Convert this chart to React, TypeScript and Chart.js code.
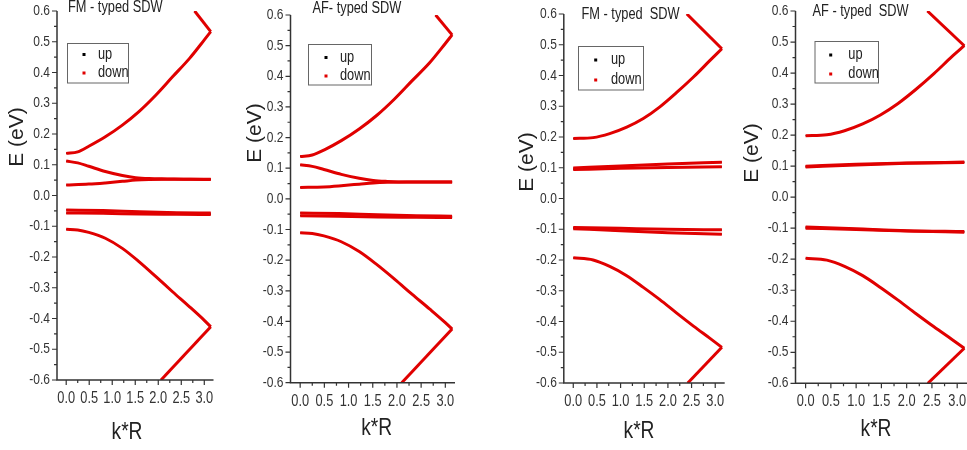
import { useEffect, useRef } from "react";
import { Chart, registerables } from "chart.js";

Chart.register(...registerables);

type Pt = [number, number];

// ---------- text ----------
const PANEL_TITLES = ["FM - typed SDW", "AF- typed SDW", "FM - typed  SDW", "AF - typed  SDW"];
const LEGEND_LABELS = ["up", "down"];
const X_TITLE = "k*R";
const Y_TITLE = "E (eV)";

// ---------- ticks ----------
const X_MAJOR = [0, 0.5, 1, 1.5, 2, 2.5, 3];
const X_MINOR = [0.25, 0.75, 1.25, 1.75, 2.25, 2.75];
const Y_MAJOR = [-0.6, -0.5, -0.4, -0.3, -0.2, -0.1, 0, 0.1, 0.2, 0.3, 0.4, 0.5, 0.6];
const Y_MINOR = [-0.55, -0.45, -0.35, -0.25, -0.15, -0.05, 0.05, 0.15, 0.25, 0.35, 0.45, 0.55];
const X_RANGE = [-0.2, 3.2];
const Y_RANGE = [-0.6, 0.6];

// ---------- panel 1: FM-typed SDW (left pair) ----------
const FM1_A: Pt[] = [[0, 0.137], [0.25, 0.142], [0.5, 0.161], [0.85, 0.191], [1.22, 0.229], [1.58, 0.273], [1.95, 0.327], [2.31, 0.386], [2.68, 0.446], [3.0, 0.506], [3.14, 0.533]];
const FM1_A_FOLD: Pt[] = [[3.14, 0.533], [2.79, 0.6]];
const FM1_B: Pt[] = [[0, 0.112], [0.25, 0.106], [0.49, 0.095], [0.85, 0.078], [1.22, 0.065], [1.51, 0.058], [1.8, 0.055], [2.2, 0.054], [2.7, 0.053], [3.14, 0.053]];
const FM1_C: Pt[] = [[0, 0.034], [0.49, 0.037], [0.85, 0.041], [1.22, 0.046], [1.51, 0.05], [1.8, 0.052], [2.2, 0.053], [2.7, 0.053], [3.14, 0.052]];
const FM1_D1: Pt[] = [[0, -0.047], [0.8, -0.049], [1.6, -0.053], [2.4, -0.056], [3.14, -0.057]];
const FM1_D2: Pt[] = [[0, -0.057], [0.8, -0.058], [1.6, -0.06], [2.4, -0.061], [3.14, -0.062]];
const FM1_E: Pt[] = [[0, -0.11], [0.25, -0.112], [0.49, -0.12], [0.85, -0.139], [1.22, -0.172], [1.58, -0.215], [1.95, -0.264], [2.31, -0.313], [2.68, -0.362], [3.0, -0.406], [3.14, -0.427]];
const FM1_E_FOLD: Pt[] = [[3.14, -0.427], [2.06, -0.6]];

// ---------- panel 2: AF-typed SDW (left pair) ----------
const AF1_A: Pt[] = [[0, 0.138], [0.25, 0.143], [0.5, 0.16], [0.85, 0.19], [1.22, 0.228], [1.58, 0.272], [1.95, 0.326], [2.31, 0.385], [2.68, 0.445], [3.0, 0.507], [3.14, 0.535]];
const AF1_A_FOLD: Pt[] = [[3.14, 0.535], [2.8, 0.6]];
const AF1_B: Pt[] = [[0, 0.111], [0.25, 0.106], [0.49, 0.096], [0.85, 0.08], [1.22, 0.067], [1.51, 0.06], [1.8, 0.057], [2.2, 0.055], [2.7, 0.055], [3.14, 0.055]];
const AF1_C: Pt[] = [[0, 0.037], [0.49, 0.039], [0.85, 0.043], [1.22, 0.048], [1.51, 0.052], [1.8, 0.054], [2.2, 0.055], [2.7, 0.055], [3.14, 0.055]];
const AF1_D1: Pt[] = [[0, -0.046], [0.8, -0.048], [1.6, -0.052], [2.4, -0.055], [3.14, -0.057]];
const AF1_D2: Pt[] = [[0, -0.055], [0.8, -0.057], [1.6, -0.059], [2.4, -0.06], [3.14, -0.061]];
const AF1_E: Pt[] = [[0, -0.111], [0.25, -0.113], [0.49, -0.121], [0.85, -0.14], [1.22, -0.172], [1.58, -0.214], [1.95, -0.262], [2.31, -0.311], [2.68, -0.36], [3.0, -0.404], [3.14, -0.425]];
const AF1_E_FOLD: Pt[] = [[3.14, -0.425], [2.1, -0.6]];

// ---------- panel 3: FM-typed SDW (right pair) ----------
const FM2_A: Pt[] = [[0, 0.195], [0.42, 0.198], [0.77, 0.211], [1.13, 0.232], [1.48, 0.26], [1.83, 0.298], [2.18, 0.344], [2.54, 0.395], [2.89, 0.449], [3.14, 0.487]];
const FM2_A_FOLD: Pt[] = [[3.14, 0.487], [2.4, 0.6]];
const FM2_F1: Pt[] = [[0, 0.099], [1, 0.106], [2, 0.112], [3.14, 0.118]];
const FM2_F2: Pt[] = [[0, 0.094], [1, 0.098], [2, 0.101], [3.14, 0.103]];
const FM2_G1: Pt[] = [[0, -0.094], [1, -0.097], [2, -0.1], [3.14, -0.102]];
const FM2_G2: Pt[] = [[0, -0.098], [1, -0.105], [2, -0.111], [3.14, -0.116]];
const FM2_E: Pt[] = [[0, -0.193], [0.42, -0.2], [0.77, -0.221], [1.13, -0.251], [1.48, -0.289], [1.83, -0.329], [2.18, -0.372], [2.54, -0.415], [2.89, -0.455], [3.14, -0.484]];
const FM2_E_FOLD: Pt[] = [[3.14, -0.484], [2.42, -0.6]];

// ---------- panel 4: AF-typed SDW (right pair) ----------
const AF2_A: Pt[] = [[0, 0.198], [0.42, 0.201], [0.77, 0.214], [1.13, 0.236], [1.48, 0.265], [1.83, 0.302], [2.18, 0.347], [2.54, 0.398], [2.89, 0.452], [3.14, 0.488]];
const AF2_A_FOLD: Pt[] = [[3.14, 0.488], [2.41, 0.6]];
const AF2_F1: Pt[] = [[0, 0.097], [1, 0.104], [2, 0.109], [3.14, 0.112]];
const AF2_F2: Pt[] = [[0, 0.1], [1, 0.106], [2, 0.11], [3.14, 0.113]];
const AF2_G1: Pt[] = [[0, -0.096], [1, -0.102], [2, -0.108], [3.14, -0.111]];
const AF2_G2: Pt[] = [[0, -0.1], [1, -0.104], [2, -0.109], [3.14, -0.113]];
const AF2_E: Pt[] = [[0, -0.197], [0.42, -0.203], [0.77, -0.223], [1.13, -0.253], [1.48, -0.291], [1.83, -0.332], [2.18, -0.375], [2.54, -0.418], [2.89, -0.458], [3.14, -0.487]];
const AF2_E_FOLD: Pt[] = [[3.14, -0.487], [2.42, -0.6]];

const PANEL_BANDS: Pt[][][] = [
  [FM1_A, FM1_B, FM1_C, FM1_D1, FM1_D2, FM1_E],
  [AF1_A, AF1_B, AF1_C, AF1_D1, AF1_D2, AF1_E],
  [FM2_A, FM2_F1, FM2_F2, FM2_G1, FM2_G2, FM2_E],
  [AF2_A, AF2_F1, AF2_F2, AF2_G1, AF2_G2, AF2_E],
];
const PANEL_FOLDS: Pt[][][] = [
  [FM1_A_FOLD, FM1_E_FOLD],
  [AF1_A_FOLD, AF1_E_FOLD],
  [FM2_A_FOLD, FM2_E_FOLD],
  [AF2_A_FOLD, AF2_E_FOLD],
];

// ---------- styling / layout ----------
const RED = "rgb(224,0,0)";
const BLACK = "#000000";
const AXIS = "#333333";
const FONT = '"Liberation Sans", Arial, sans-serif';
const NARROW_SCALE = 0.8;

type Layout = {
  x: number; w: number; left: number; right: number; top: number; bottom: number;
  title: [number, number]; yTitle: [number, number]; xTitle: [number, number];
  legend: [number, number, number, number]; dotX: number; textX: number; rowY: [number, number];
};

const LAYOUTS: Layout[] = [
  { x: 0, w: 235, left: 57, right: 213.5, top: 11, bottom: 380, title: [68, 8], yTitle: [17.5, 137], xTitle: [127, 432], legend: [67.5, 43.5, 61, 39.5], dotX: 84, textX: 98, rowY: [54.5, 73] },
  { x: 235, w: 240, left: 55.5, right: 220, top: 15, bottom: 382.7, title: [77.5, 8.5], yTitle: [20, 133], xTitle: [141.7, 428], legend: [73.5, 44.5, 63, 40.5], dotX: 91, textX: 105, rowY: [57.5, 76] },
  { x: 475, w: 255, left: 88.8, right: 249.7, top: 14, bottom: 383, title: [106.5, 15], yTitle: [52, 162], xTitle: [164, 431], legend: [103.5, 46.5, 65, 43.5], dotX: 120.7, textX: 136, rowY: [60, 80] },
  { x: 730, w: 245, left: 65.5, right: 237.3, top: 11, bottom: 383.3, title: [82.5, 11.5], yTitle: [22.5, 153], xTitle: [146, 429], legend: [85, 41.5, 63.5, 41.5], dotX: 100.7, textX: 118.3, rowY: [55, 74] },
];

const toXY = (b: Pt[]) => b.map(([x, y]) => ({ x, y }));

function narrowText(ctx: CanvasRenderingContext2D, text: string, x: number, y: number, size: number, align: CanvasTextAlign) {
  ctx.save();
  ctx.translate(x, y);
  ctx.scale(NARROW_SCALE, 1);
  ctx.font = `${size}px ${FONT}`;
  ctx.textAlign = align;
  ctx.textBaseline = "middle";
  ctx.fillText(text, 0, 0);
  ctx.restore();
}

function Panel({ idx }: { idx: number }) {
  const ref = useRef<HTMLCanvasElement>(null);
  const L = LAYOUTS[idx];

  useEffect(() => {
    const bands = PANEL_BANDS[idx];
    const folds = PANEL_FOLDS[idx];
    const datasets: any[] = [];
    bands.forEach((b) =>
      datasets.push({ label: LEGEND_LABELS[1], data: toXY(b), borderColor: RED, borderWidth: 3, pointRadius: 0, cubicInterpolationMode: "monotone", order: 0 })
    );
    folds.forEach((b) =>
      datasets.push({ label: LEGEND_LABELS[1], data: toXY(b), borderColor: RED, borderWidth: 3, pointRadius: 0, tension: 0, order: 0 })
    );
    bands.forEach((b) =>
      datasets.push({ label: LEGEND_LABELS[0], data: toXY(b), borderColor: BLACK, borderWidth: 1.2, pointRadius: 0, cubicInterpolationMode: "monotone", order: 1 })
    );
    folds.forEach((b) =>
      datasets.push({ label: LEGEND_LABELS[0], data: toXY(b), borderColor: BLACK, borderWidth: 1.2, pointRadius: 0, tension: 0, order: 1 })
    );

    const decor = {
      id: "decor" + idx,
      afterDraw(chart: any) {
        const ctx = chart.ctx as CanvasRenderingContext2D;
        const xs = chart.scales.x;
        const ys = chart.scales.y;
        const { left, right, top, bottom } = chart.chartArea;
        ctx.save();
        ctx.strokeStyle = AXIS;
        ctx.lineWidth = 1.5;
        ctx.beginPath();
        ctx.moveTo(left, top);
        ctx.lineTo(left, bottom);
        ctx.lineTo(right, bottom);
        ctx.stroke();
        ctx.lineWidth = 1.2;
        ctx.beginPath();
        Y_MAJOR.forEach((v) => { const p = ys.getPixelForValue(v); ctx.moveTo(left - 5, p); ctx.lineTo(left, p); });
        Y_MINOR.forEach((v) => { const p = ys.getPixelForValue(v); ctx.moveTo(left - 3, p); ctx.lineTo(left, p); });
        X_MAJOR.forEach((v) => { const p = xs.getPixelForValue(v); ctx.moveTo(p, bottom); ctx.lineTo(p, bottom + 5); });
        X_MINOR.forEach((v) => { const p = xs.getPixelForValue(v); ctx.moveTo(p, bottom); ctx.lineTo(p, bottom + 3); });
        ctx.stroke();

        // tick labels
        ctx.fillStyle = "#333";
        Y_MAJOR.forEach((v) => narrowText(ctx, v.toFixed(1), left - 7, ys.getPixelForValue(v), 15, "right"));
        X_MAJOR.forEach((v) => narrowText(ctx, v.toFixed(1), xs.getPixelForValue(v), bottom + 18.5, 16, "center"));

        // title
        ctx.fillStyle = "#222";
        narrowText(ctx, PANEL_TITLES[idx], L.title[0], L.title[1], 16, "left");

        // legend
        const [bx, by, bw, bh] = L.legend;
        ctx.fillStyle = "#fff";
        ctx.fillRect(bx, by, bw, bh);
        ctx.strokeStyle = "#666";
        ctx.lineWidth = 1;
        ctx.strokeRect(bx, by, bw, bh);
        [BLACK, RED].forEach((c, i) => {
          ctx.fillStyle = c;
          ctx.fillRect(L.dotX - 1.5, L.rowY[i] - 1.5, 3, 3);
          ctx.fillStyle = "#222";
          narrowText(ctx, LEGEND_LABELS[i], L.textX, L.rowY[i], 16, "left");
        });

        // axis titles
        ctx.fillStyle = "#222";
        narrowText(ctx, X_TITLE, L.xTitle[0], L.xTitle[1], 24, "center");
        ctx.translate(L.yTitle[0], L.yTitle[1]);
        ctx.rotate(-Math.PI / 2);
        ctx.font = `21px ${FONT}`;
        ctx.textAlign = "center";
        ctx.textBaseline = "middle";
        ctx.fillText(Y_TITLE, 0, 0);
        ctx.restore();
      },
    };

    const chart = new Chart(ref.current!, {
      type: "line",
      data: { datasets },
      options: {
        animation: false,
        responsive: false,
        devicePixelRatio: 1,
        events: [],
        layout: { padding: { left: 0, top: L.top, right: L.w - L.right, bottom: 0 } },
        plugins: { legend: { display: false }, tooltip: { enabled: false } },
        scales: {
          x: {
            type: "linear",
            min: X_RANGE[0],
            max: X_RANGE[1],
            grid: { display: false, drawTicks: false },
            border: { display: false },
            afterFit: (s: any) => { s.height = 450 - L.bottom; },
            afterBuildTicks: (s: any) => { s.ticks = X_MAJOR.map((value) => ({ value })); },
            ticks: { display: false },
          },
          y: {
            type: "linear",
            min: Y_RANGE[0],
            max: Y_RANGE[1],
            grid: { display: false, drawTicks: false },
            border: { display: false },
            afterFit: (s: any) => { s.width = L.left; },
            afterBuildTicks: (s: any) => { s.ticks = Y_MAJOR.map((value) => ({ value })); },
            ticks: { display: false },
          },
        },
      },
      plugins: [decor],
    } as any);
    return () => chart.destroy();
  }, [idx]);

  return (
    <canvas
      ref={ref}
      width={L.w}
      height={450}
      style={{ position: "absolute", left: L.x, top: 0, width: L.w, height: 450 }}
    />
  );
}

export default function App() {
  return (
    <div style={{ position: "fixed", left: 0, top: 0, width: 967, height: 450, overflow: "hidden", background: "#fff" }}>
      {LAYOUTS.map((_, i) => (
        <Panel key={i} idx={i} />
      ))}
    </div>
  );
}
